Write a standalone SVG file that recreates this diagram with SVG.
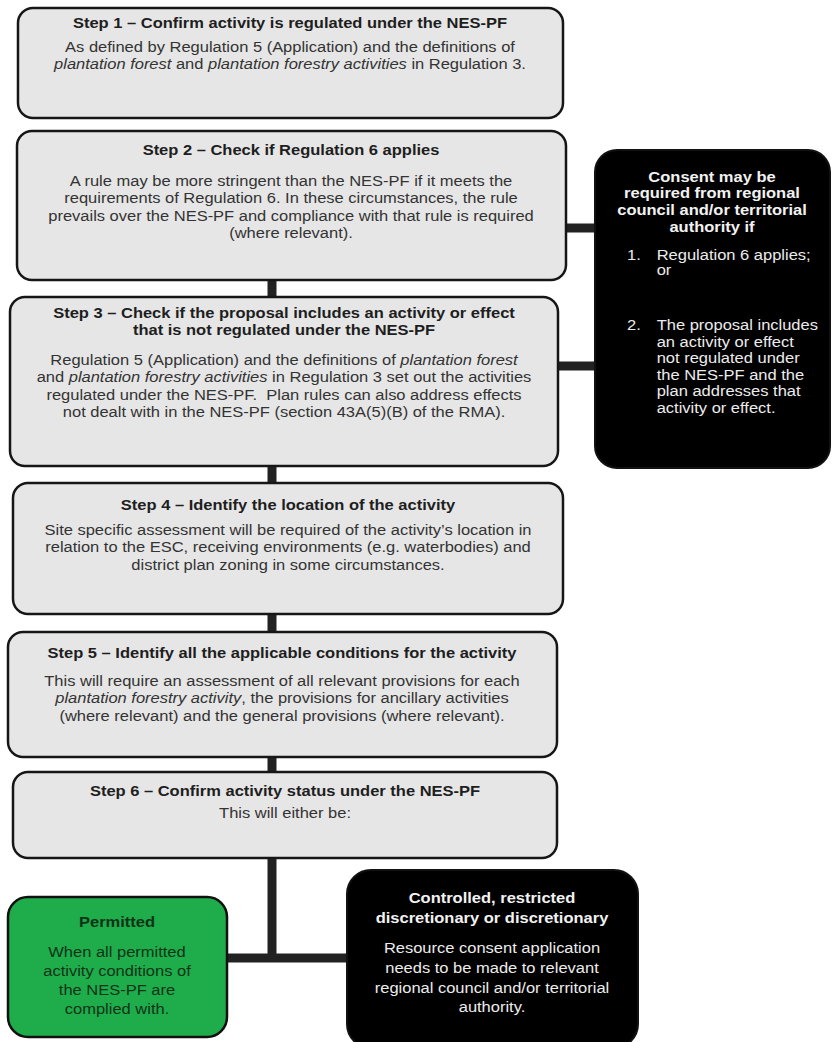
<svg xmlns="http://www.w3.org/2000/svg" width="836" height="1042" viewBox="0 0 836 1042">
<style>
.box{fill:#e6e6e6;stroke:#161616;stroke-width:2.5}
.dark{fill:#000;stroke:#111;stroke-width:2}
.green{fill:#1fac4b;stroke:#111;stroke-width:2.5}
.conn{stroke:#222;stroke-width:9;fill:none}
text{font-family:"Liberation Sans",Arial,sans-serif;font-size:15px}
.t{font-weight:bold;fill:#1e1e1e;text-anchor:middle}
.b{fill:#333;text-anchor:middle}
.tw{font-weight:bold;fill:#f2f2f2;text-anchor:middle}
.bw{fill:#ececec;text-anchor:middle}
.lw{fill:#ececec}
.tg{font-weight:bold;fill:#0e3417;text-anchor:middle}
.bg{fill:#0e3417;text-anchor:middle}
.i{font-style:italic}
</style>
<g id="connectors">
<line class="conn" x1="272" y1="278" x2="272" y2="299"/>
<line class="conn" x1="272" y1="464" x2="272" y2="485"/>
<line class="conn" x1="272" y1="612" x2="272" y2="634"/>
<line class="conn" x1="272" y1="755" x2="272" y2="774"/>
<line class="conn" x1="272" y1="856" x2="272" y2="962"/>
<line class="conn" x1="225" y1="958" x2="349" y2="958"/>
<line class="conn" x1="561" y1="228" x2="597" y2="228"/>
<line class="conn" x1="556" y1="366" x2="597" y2="366"/>
</g>
<g id="step1">
<rect class="box" x="18" y="8" width="545" height="110" rx="15"/>
<g transform="translate(290,0) scale(1.1,1)">
<text class="t" x="0" y="28">Step 1 – Confirm activity is regulated under the NES-PF</text>
<text class="b" x="0" y="52">As defined by Regulation 5 (Application) and the definitions of</text>
<text class="b" x="0" y="69"><tspan class="i">plantation forest</tspan> and <tspan class="i">plantation forestry activities</tspan> in Regulation 3.</text>
</g>
</g>
<g id="step2">
<rect class="box" x="17" y="131" width="549" height="149" rx="15"/>
<g transform="translate(291,0) scale(1.1,1)">
<text class="t" x="0" y="155">Step 2 – Check if Regulation 6 applies</text>
<text class="b" x="0" y="186">A rule may be more stringent than the NES-PF if it meets the</text>
<text class="b" x="0" y="203.5">requirements of Regulation 6. In these circumstances, the rule</text>
<text class="b" x="0" y="221">prevails over the NES-PF and compliance with that rule is required</text>
<text class="b" x="0" y="238.5">(where relevant).</text>
</g>
</g>
<g id="step3">
<rect class="box" x="10" y="297" width="548" height="169" rx="15"/>
<g transform="translate(284,0) scale(1.1,1)">
<text class="t" x="0" y="318">Step 3 – Check if the proposal includes an activity or effect</text>
<text class="t" x="0" y="335">that is not regulated under the NES-PF</text>
<text class="b" x="0" y="365">Regulation 5 (Application) and the definitions of <tspan class="i">plantation forest</tspan></text>
<text class="b" x="0" y="382.5">and <tspan class="i">plantation forestry activities</tspan> in Regulation 3 set out the activities</text>
<text class="b" x="0" y="400" xml:space="preserve">regulated under the NES-PF.  Plan rules can also address effects</text>
<text class="b" x="0" y="417.5">not dealt with in the NES-PF (section 43A(5)(B) of the RMA).</text>
</g>
</g>
<g id="step4">
<rect class="box" x="13" y="483" width="550" height="131" rx="15"/>
<g transform="translate(288,0) scale(1.1,1)">
<text class="t" x="0" y="510">Step 4 – Identify the location of the activity</text>
<text class="b" x="0" y="535">Site specific assessment will be required of the activity’s location in</text>
<text class="b" x="0" y="552.5">relation to the ESC, receiving environments (e.g. waterbodies) and</text>
<text class="b" x="0" y="570">district plan zoning in some circumstances.</text>
</g>
</g>
<g id="step5">
<rect class="box" x="8" y="632" width="549" height="125" rx="15"/>
<g transform="translate(282,0) scale(1.1,1)">
<text class="t" x="0" y="658">Step 5 – Identify all the applicable conditions for the activity</text>
<text class="b" x="0" y="686">This will require an assessment of all relevant provisions for each</text>
<text class="b" x="0" y="703.5"><tspan class="i">plantation forestry activity</tspan>, the provisions for ancillary activities</text>
<text class="b" x="0" y="721">(where relevant) and the general provisions (where relevant).</text>
</g>
</g>
<g id="step6">
<rect class="box" x="13" y="772" width="544" height="86" rx="15"/>
<g transform="translate(285,0) scale(1.1,1)">
<text class="t" x="0" y="796">Step 6 – Confirm activity status under the NES-PF</text>
<text class="b" x="0" y="818">This will either be:</text>
</g>
</g>
<g id="consent-box">
<rect class="dark" x="595" y="150" width="235" height="318" rx="22"/>
<g transform="translate(712,0) scale(1.1,1)">
<text class="tw" x="0" y="182">Consent may be</text>
<text class="tw" x="0" y="198">required from regional</text>
<text class="tw" x="0" y="215">council and/or territorial</text>
<text class="tw" x="0" y="232">authority if</text>
</g>
<g transform="translate(627,0) scale(1.1,1)">
<text class="lw" x="0" y="260">1.</text>
<text class="lw" x="27" y="260">Regulation 6 applies;</text>
<text class="lw" x="27" y="275">or</text>
<text class="lw" x="0" y="330">2.</text>
<text class="lw" x="27" y="330">The proposal includes</text>
<text class="lw" x="27" y="347">an activity or effect</text>
<text class="lw" x="27" y="363">not regulated under</text>
<text class="lw" x="27" y="380">the NES-PF and the</text>
<text class="lw" x="27" y="396">plan addresses that</text>
<text class="lw" x="27" y="413">activity or effect.</text>
</g>
</g>
<g id="permitted">
<rect class="green" x="8" y="897" width="219" height="140" rx="20"/>
<g transform="translate(117,0) scale(1.1,1)">
<text class="tg" x="0" y="927">Permitted</text>
<text class="bg" x="0" y="957">When all permitted</text>
<text class="bg" x="0" y="976">activity conditions of</text>
<text class="bg" x="0" y="995">the NES-PF are</text>
<text class="bg" x="0" y="1014">complied with.</text>
</g>
</g>
<g id="controlled">
<rect class="dark" x="347" y="870" width="291" height="178" rx="24"/>
<g transform="translate(492,0) scale(1.1,1)">
<text class="tw" x="0" y="903">Controlled, restricted</text>
<text class="tw" x="0" y="923">discretionary or discretionary</text>
<text class="bw" x="0" y="953">Resource consent application</text>
<text class="bw" x="0" y="973">needs to be made to relevant</text>
<text class="bw" x="0" y="993">regional council and/or territorial</text>
<text class="bw" x="0" y="1012">authority.</text>
</g>
</g>
</svg>
